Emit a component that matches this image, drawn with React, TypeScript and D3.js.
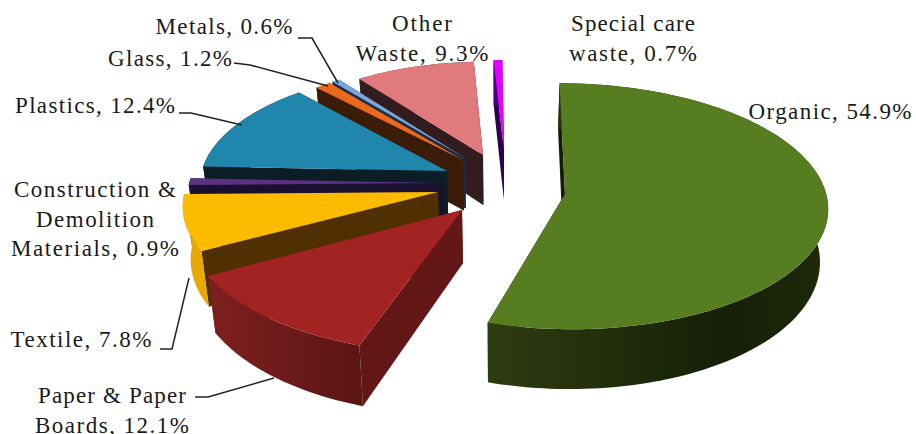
import React from "react";
import * as d3 from "d3";

// Waste composition, clockwise from twelve o'clock
const categories = ["Organic", "Paper & Paper Boards", "Textile", "Construction & Demolition Materials", "Plastics", "Glass", "Metals", "Other Waste", "Special care waste"];
const shares = [54.9, 12.1, 7.8, 0.9, 12.4, 1.2, 0.6, 9.3, 0.7];

// Exploded placement of each wedge's tip relative to the pie centre, and its radial reach
const tipOffsets: [number, number][] = [[60, 11], [-43, 27], [-67, 9], [-63, 0], [-58, -12], [-42, -23], [-40, -25], [-22, -28], [-1, -33]];
const reach = [0.988, 1.02, 0.96, 0.965, 0.945, 0.905, 0.9, 0.877, 0.85];
// Small angular corrections (degrees) to the wedge edges under the perspective view
const edgeNudges: [number, number][] = [[0.5, -0.5], [1.5, 0], [0.5, 0], [0, 0], [0, 1.5], [0, 0], [0, 0], [0, 0], [0, 0]];

const topColors = ["#567e20", "#a32323", "#fdbb00", "#5b3183", "#2186ac", "#e9691e", "#7ba6dc", "#e07a7c", "#e600ff"];
const sideColors = ["#141d07", "#641717", "#503000", "#1a1030", "#0b1e26", "#3a1c08", "#1c2c44", "#321c1e", "#2e0050"];
const rimStart = ["#2f3c10", "#7c1f1f", "#e8a800", "#3a2060", "#0b1e26", "#3a1c08", "#1c2c44", "#321c1e", "#4b0080"];
const rimEnd = ["#161f08", "#5a1515", "#e8a800", "#1a1030", "#0b1e26", "#3a1c08", "#1c2c44", "#321c1e", "#2e0050"];

// Back-to-front painting order
const paintOrder = [8, 7, 6, 5, 4, 3, 2, 1, 0];

const labelLines: { lines: string[]; x: number; y: number; w: number[] }[] = [
  { lines: ["Organic, 54.9%"], x: 830, y: 119, w: [163] },
  { lines: ["Paper & Paper", "Boards, 12.1%"], x: 112, y: 403, w: [148, 154] },
  { lines: ["Textile, 7.8%"], x: 81, y: 347, w: [141] },
  { lines: ["Construction &", "Demolition", "Materials, 0.9%"], x: 95, y: 197, w: [162, 118, 168] },
  { lines: ["Plastics, 12.4%"], x: 95, y: 113, w: [160] },
  { lines: ["Glass, 1.2%"], x: 170, y: 66, w: [124] },
  { lines: ["Metals, 0.6%"], x: 224, y: 34, w: [137] },
  { lines: ["Other", "Waste, 9.3%"], x: 422, y: 31, w: [60, 133] },
  { lines: ["Special care", "waste, 0.7%"], x: 633, y: 31, w: [124, 128] },
];
const lineGap = 29.5;

const leaders: [number, number][][] = [
  [[298, 38], [312, 38], [338, 83]],
  [[234, 63], [250, 65], [328, 86]],
  [[179, 113], [191, 113], [242, 125]],
  [[160, 349], [172, 349], [189, 278]],
  [[195, 397], [208, 397], [274, 378]],
];

const WIDTH = 916;
const HEIGHT = 434;
const CX = 505;
const CY = 183;
const RX = 262;
const RY = 121;
const K = 0.1; // strength of the perspective foreshortening
const SLAB_SHRINK = 0.975;
const VANISH_X = 500;

// Ground-plane coordinates to screen, with perspective along the viewing axis
const project = (u: number, v: number): [number, number] => {
  const s = 1 / (1 - K * v);
  return [CX + RX * u * s, CY + RY * v * s];
};
const unproject = (dx: number, dy: number): [number, number] => {
  const v = dy / (RY + K * dy);
  const s = 1 / (1 - K * v);
  return [dx / (RX * s), v];
};
// The lower edge of the slab, pushed down and pulled slightly towards the vanishing line
const lower = ([x, y]: [number, number]): [number, number] => [
  VANISH_X + (x - VANISH_X) * SLAB_SHRINK,
  y + 50 + (y - 150) * 0.055,
];

const pieLayout = d3
  .pie<number>()
  .sort(null)
  .startAngle((-0.5 * Math.PI) / 180)
  .endAngle(((360 - 0.5) * Math.PI) / 180);

const lineGen = d3.line<[number, number]>();
const toRad = (deg: number) => (deg * Math.PI) / 180;

export default function App() {
  const arcs = pieLayout(shares);
  const wedges = arcs.map((a, i) => {
    const [u0, v0] = unproject(tipOffsets[i][0], tipOffsets[i][1]);
    const from = a.startAngle + toRad(edgeNudges[i][0]);
    const to = a.endAngle + toRad(edgeNudges[i][1]);
    const steps = Math.max(3, Math.ceil((to - from) * 40));
    const rim = d3.range(steps + 1).map((k) => {
      const t = from + ((to - from) * k) / steps;
      return project(u0 + reach[i] * Math.sin(t), v0 - reach[i] * Math.cos(t));
    });
    const tip = project(u0, v0);
    return { i, tip, rim };
  });

  return (
    <svg
      width={WIDTH}
      height={HEIGHT}
      viewBox={`0 0 ${WIDTH} ${HEIGHT}`}
      style={{ position: "absolute", left: 0, top: 0, display: "block", background: "#fff" }}
    >
      <defs>
        {wedges.map(({ i, rim }) => {
          const xs = rim.map((p) => p[0]);
          return (
            <linearGradient
              key={i}
              id={`rim-${i}`}
              gradientUnits="userSpaceOnUse"
              x1={d3.min(xs)}
              x2={d3.max(xs)}
              y1={0}
              y2={0}
            >
              {i === 0 ? (
                <>
                  <stop offset="0" stopColor={rimStart[0]} />
                  <stop offset="0.7" stopColor={rimEnd[0]} />
                  <stop offset="1" stopColor="#1e2a0a" />
                </>
              ) : (
                <>
                  <stop offset="0.1" stopColor={rimStart[i]} />
                  <stop offset="1" stopColor={rimEnd[i]} />
                </>
              )}
            </linearGradient>
          );
        })}
      </defs>

      {paintOrder.map((idx) => {
        const { i, tip, rim } = wedges[idx];
        const first = rim[0];
        const last = rim[rim.length - 1];
        const side = (a: [number, number], b: [number, number]) =>
          (lineGen([a, b, lower(b), lower(a)]) ?? "") + "Z";
        const rimWall = (lineGen([...rim, ...rim.map(lower).reverse()]) ?? "") + "Z";
        const top = (lineGen([tip, ...rim]) ?? "") + "Z";
        return (
          <g key={categories[i]}>
            <path d={side(tip, first)} fill={sideColors[i]} />
            <path d={side(tip, last)} fill={sideColors[i]} />
            <path d={rimWall} fill={`url(#rim-${i})`} />
            <path d={top} fill={topColors[i]} />
          </g>
        );
      })}

      {leaders.map((pts, i) => (
        <path key={i} d={lineGen(pts) ?? ""} fill="none" stroke="#222" strokeWidth={1.5} />
      ))}

      {labelLines.map((l) =>
        l.lines.map((t, j) => (
          <text
            key={t}
            x={l.x}
            y={l.y + j * lineGap}
            textAnchor="middle"
            textLength={l.w[j]}
            lengthAdjust="spacing"
            fontFamily="'Liberation Serif', serif"
            fontSize={23}
            fill="#1a1a1a"
          >
            {t}
          </text>
        ))
      )}
    </svg>
  );
}
